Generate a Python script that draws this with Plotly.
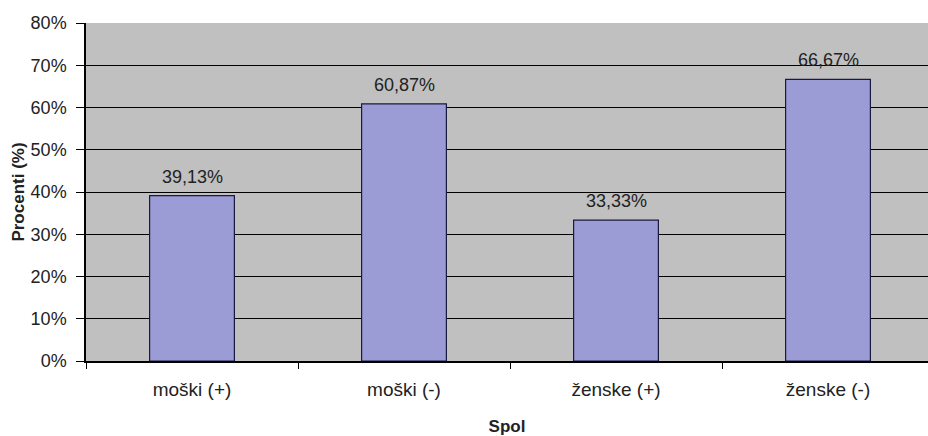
import plotly.graph_objects as go

categories = ["moški (+)", "moški (-)", "ženske (+)", "ženske (-)"]
values = [39.13, 60.87, 33.33, 66.67]
y_ticks = [0, 10, 20, 30, 40, 50, 60, 70, 80]
y_tick_labels = [f"{v}%" for v in y_ticks]

FONT = "Liberation Sans, Arial, sans-serif"
TXT = "#222222"

fig = go.Figure(
    go.Bar(
        x=categories,
        y=values,
        width=0.4,
        marker=dict(color="#9b9bd6", line=dict(color="#1a1a40", width=1.2)),
        hoverinfo="skip",
    )
)

for c, v in zip(categories, values):
    fig.add_annotation(
        x=c, y=v, text=f"{v:.2f}%".replace(".", ","),
        showarrow=False, yanchor="bottom", yshift=7,
        font=dict(family=FONT, size=18, color=TXT),
    )

fig.update_layout(
    width=928, height=436,
    margin=dict(l=86, r=0, t=23, b=75),
    paper_bgcolor="white",
    plot_bgcolor="#c0c0c0",
    showlegend=False,
    font=dict(family=FONT, size=18, color=TXT),
)

fig.update_xaxes(
    range=[-0.5, -0.5 + 842 / 212],
    showgrid=False,
    showline=True, linecolor="black", linewidth=1.5,
    ticks="outside", tickson="boundaries", ticklen=6, tickcolor="black",
    ticklabelstandoff=10,
    tickfont=dict(size=19),
    title=dict(text="<b>Spol</b>", font=dict(family=FONT, size=17, color=TXT), standoff=22),
)

fig.update_yaxes(
    range=[0, 80],
    tickvals=y_ticks, ticktext=y_tick_labels,
    showgrid=True, gridcolor="black", gridwidth=1.3,
    showline=True, linecolor="black", linewidth=1.5,
    ticks="outside", ticklen=8, tickcolor="black",
    ticklabelstandoff=6,
    zeroline=False,
    title=dict(text="<b>Procenti (%)</b>", font=dict(family=FONT, size=17, color=TXT), standoff=2),
)

fig.write_html("out.html")
